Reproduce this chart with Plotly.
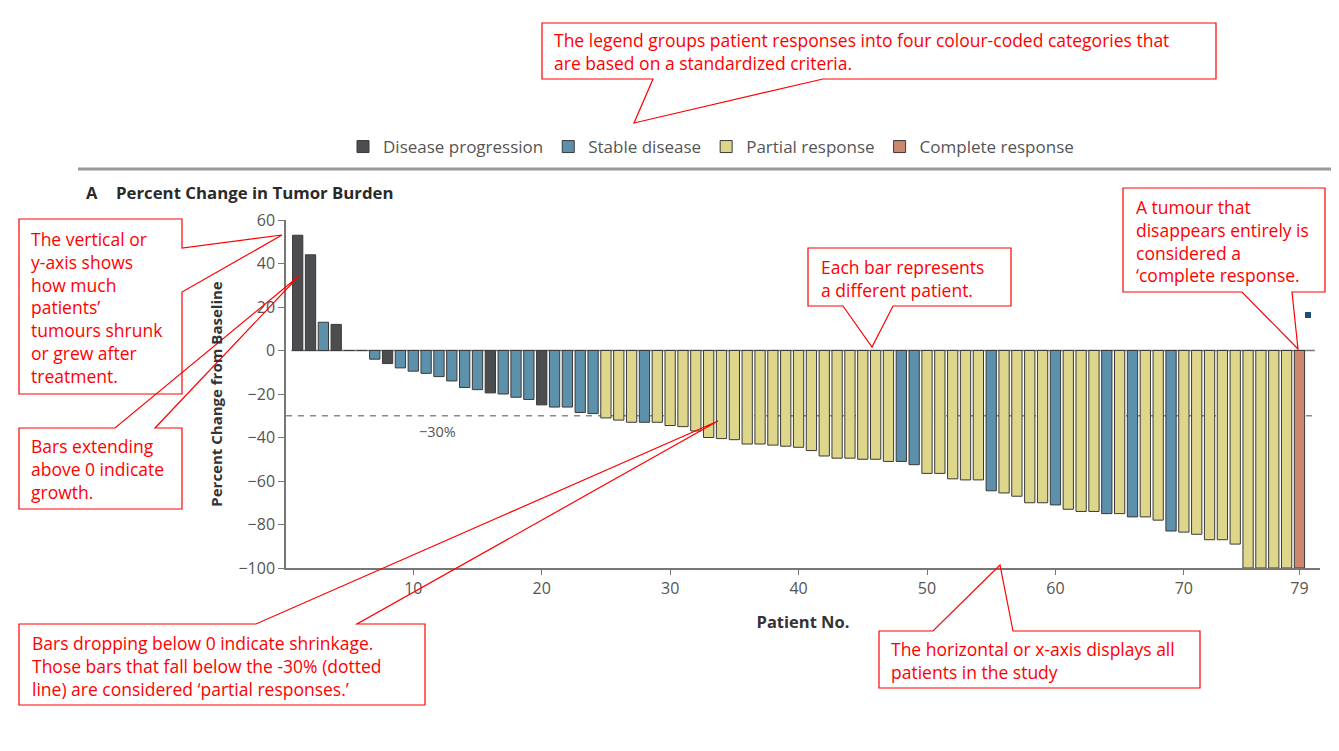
import plotly.graph_objects as go

# ---------------- data ----------------
patients = list(range(1, 80))
pct_change = [53, 44, 13, 12, 0, 0, -4, -6, -8, -9.5,
              -10.5, -12, -14, -17, -18, -19.5, -20, -21.5, -22.5, -25,
              -26, -26, -28.5, -29, -31, -32, -33, -33, -33, -34.5,
              -35, -37, -40, -40.5, -41, -43, -43, -43.5, -44, -44.5,
              -46, -48.5, -49.5, -49.5, -50, -50, -51, -51, -52.5, -56.5,
              -56.5, -59, -59.5, -59.5, -64.5, -65.5, -67, -70, -70, -71,
              -73, -74, -74, -75, -75, -76.5, -76.5, -78, -83, -83.5,
              -84.5, -87, -87, -89, -100, -100, -100, -100, -100]
response = (["D", "D", "S", "D", "S", "S", "S", "D", "S", "S",
             "S", "S", "S", "S", "S", "D", "S", "S", "S", "D",
             "S", "S", "S", "S", "P", "P", "P", "S", "P", "P"]
            + ["P"] * 17 + ["S", "S"] + ["P"] * 5 + ["S"] + ["P"] * 4
            + ["S", "P", "P", "P", "S", "P", "S", "P", "P", "S"]
            + ["P"] * 9 + ["C"])
categories = ["D", "S", "P", "C"]
category_names = {"D": "Disease progression", "S": "Stable disease",
                  "P": "Partial response", "C": "Complete response"}
category_colors = {"D": "#4b4d50", "S": "#5d90ab", "P": "#ded68b", "C": "#cc876e"}
x_tickvals = [10, 20, 30, 40, 50, 60, 70, 79]
y_tickvals = [60, 40, 20, 0, -20, -40, -60, -80, -100]
threshold = -30

# ---------------- geometry helpers ----------------
# The page body has an 8px margin, so the figure is drawn 8px smaller and
# every position below is given in window pixels of the reference.
OFF = 8
W, H = 1339 - OFF, 751 - OFF
L, R, T, B = 286, 1320, 220, 568          # plot area in window pixels


def px(x):
    return (x - L) / (R - L)


def py(y):
    return (B - y) / (B - T)


fig = go.Figure()
for c in categories:
    xs = [p for p, r in zip(patients, response) if r == c]
    ys = [v for v, r in zip(pct_change, response) if r == c]
    fig.add_trace(go.Bar(
        x=xs, y=ys, name=category_names[c], width=0.8,
        marker=dict(color=category_colors[c], line=dict(color="#3a3a3a", width=1)),
    ))

FONT = "Open Sans"
fig.update_layout(
    width=W, height=H,
    margin=dict(l=L - OFF, r=1339 - R, t=T - OFF, b=751 - B, autoexpand=False),
    paper_bgcolor="white", plot_bgcolor="white",
    barmode="overlay",
    font=dict(family=FONT, color="#555555"),
    showlegend=True,
    legend=dict(orientation="h", x=px(343), xanchor="left", y=py(147), yanchor="middle",
                font=dict(family=FONT, size=17, color="#555555"),
                bgcolor="rgba(0,0,0,0)", traceorder="normal"),
    xaxis=dict(range=[0.09, 80.6], tickvals=x_tickvals, ticks="outside", ticklen=5,
               tickcolor="#777777", showline=True, linecolor="#777777", linewidth=1.5,
               showgrid=False, zeroline=False,
               tickfont=dict(family=FONT, size=16, color="#555555"),
               title=dict(text="<b>Patient No.</b>", standoff=18,
                          font=dict(family=FONT, size=16.5, color="#333333"))),
    yaxis=dict(range=[-100, 60], tickvals=y_tickvals, ticks="outside", ticklen=6,
               tickcolor="#777777", showline=True, linecolor="#777777", linewidth=1.5,
               showgrid=False, zeroline=False,
               tickfont=dict(family=FONT, size=16, color="#555555"),
               title=dict(text="<b>Percent Change from Baseline</b>", standoff=12,
                          font=dict(family=FONT, size=15, color="#333333"))),
)

# zero line and -30% threshold
fig.add_shape(type="line", xref="x", yref="y", x0=0.5, x1=80.2, y0=0, y1=0,
              line=dict(color="#777777", width=1.5), layer="below")
fig.add_shape(type="line", xref="x", yref="y", x0=0.09, x1=80.2, y0=threshold, y1=threshold,
              line=dict(color="#8a8a8a", width=1.5, dash="6px,6px"), layer="below")
fig.add_annotation(xref="x", yref="y", x=11.9, y=threshold, yshift=-16, text="−30%",
                   showarrow=False, font=dict(family=FONT, size=14.5, color="#555555"))

# panel title
fig.add_annotation(xref="paper", yref="paper", x=px(84), y=py(192), xanchor="left",
                   yanchor="middle", showarrow=False,
                   text="<b>A</b>", font=dict(family=FONT, size=16.5, color="#2a2a2a"))
fig.add_annotation(xref="paper", yref="paper", x=px(114), y=py(192), xanchor="left",
                   yanchor="middle", showarrow=False,
                   text="<b>Percent Change in Tumor Burden</b>",
                   font=dict(family=FONT, size=16.8, color="#2a2a2a"))

# frame lines / separator
fig.add_shape(type="line", xref="paper", yref="paper", x0=px(78), x1=px(1339),
              y0=py(169), y1=py(169), line=dict(color="#9a9a9a", width=3))
fig.add_shape(type="line", xref="paper", yref="paper", x0=px(5), x1=px(1339),
              y0=py(6), y1=py(6), line=dict(color="#d9d9d9", width=2))
fig.add_shape(type="line", xref="paper", yref="paper", x0=px(5), x1=px(5),
              y0=py(6), y1=py(751), line=dict(color="#d9d9d9", width=2))
fig.add_shape(type="rect", xref="paper", yref="paper", x0=px(1305), x1=px(1311),
              y0=py(318), y1=py(312), fillcolor="#1f4e79", line=dict(width=0))

# ---------------- callouts ----------------
RED = "#ff0000"
CFONT = "Open Sans"
callouts = [
    ([(542, 23), (1216, 23), (1216, 79), (823, 79), (634, 123), (653, 79), (542, 79)],
     552, 52, "The legend groups patient responses into four colour-coded categories that<br>"
              "are based on a standardized criteria."),
    ([(19, 219), (182, 219), (182, 248), (282, 235), (182, 292), (182, 394), (19, 394)],
     29, 307, "The vertical or<br>y-axis shows<br>how much<br>patients’<br>tumours shrunk<br>"
              "or grew after<br>treatment."),
    ([(19, 428), (115, 428), (299, 276), (155, 428), (182, 428), (182, 509), (19, 509)],
     29, 469, "Bars extending<br>above 0 indicate<br>growth."),
    ([(19, 624), (256, 624), (718, 421), (357, 624), (425, 624), (425, 705), (19, 705)],
     30, 666, "Bars dropping below 0 indicate shrinkage.<br>"
              "Those bars that fall below the -30% (dotted<br>line) are considered ‘partial responses.’"),
    ([(808, 248), (1011, 248), (1011, 306), (893, 306), (872, 347), (843, 306), (808, 306)],
     819, 278, "Each bar represents<br>a different patient."),
    ([(1123, 188), (1325, 188), (1325, 292), (1292, 292), (1298, 349), (1242, 292), (1123, 292)],
     1134, 241, "A tumour that<br>disappears entirely is<br>considered a<br>‘complete response."),
    ([(879, 631), (933, 631), (1000, 565), (1013, 631), (1200, 631), (1200, 688), (879, 688)],
     889, 660, "The horizontal or x-axis displays all<br>patients in the study"),
]
for pts, tx, ty, text in callouts:
    path = "M " + " L ".join(f"{px(a):.5f},{py(b):.5f}" for a, b in pts) + " Z"
    fig.add_shape(type="path", xref="paper", yref="paper", path=path,
                  line=dict(color=RED, width=1.2), layer="above")
    fig.add_annotation(xref="paper", yref="paper", x=px(tx), y=py(ty), xanchor="left",
                       yanchor="middle", align="left", showarrow=False, text=text,
                       font=dict(family=CFONT, size=17.5, color=RED))

fig.write_html("out.html")
